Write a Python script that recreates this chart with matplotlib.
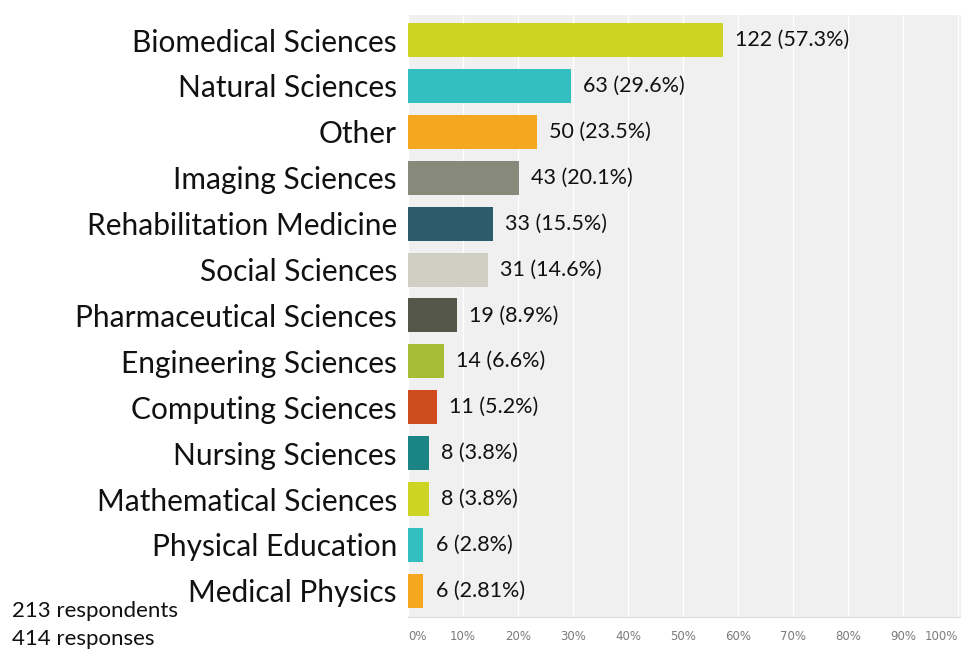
import numpy as np
import matplotlib.pyplot as plt

# survey data
categories = ['Biomedical Sciences', 'Natural Sciences', 'Other', 'Imaging Sciences',
              'Rehabilitation Medicine', 'Social Sciences', 'Pharmaceutical Sciences',
              'Engineering Sciences', 'Computing Sciences', 'Nursing Sciences',
              'Mathematical Sciences', 'Physical Education', 'Medical Physics']
counts = [122, 63, 50, 43, 33, 31, 19, 14, 11, 8, 8, 6, 6]
percents = [57.3, 29.6, 23.5, 20.1, 15.5, 14.6, 8.9, 6.6, 5.2, 3.8, 3.8, 2.8, 2.81]
colors = ['#cdd424', '#33bec0', '#f5a81f', '#878a7a', '#2c5b6c', '#cfcfc4', '#545647',
          '#a6bd35', '#cf4c1f', '#1b8585', '#cdd424', '#33bec0', '#f5a81f']
tick_vals = list(range(0, 101, 10))

plt.rcParams['font.family'] = ['Lato', 'DejaVu Sans']

fig = plt.figure(figsize=(9.61, 6.51), dpi=100)
ax = fig.add_axes([408 / 961, 1 - 617 / 651, 553 / 961, 602 / 651])
ax.set_facecolor('#f0f0f0')

y = np.arange(len(categories))
ax.barh(y, percents, height=0.74, color=colors, zorder=3)

for yi, c, p in zip(y, counts, percents):
    ax.text(p + 2.2, yi, f'{c} ({p}%)', va='center', ha='left',
            fontsize=15.5, color='#111111', zorder=4)

ax.set_xlim(0, 100.5)
ax.set_ylim(12.57, -0.545)
ax.set_xticks(tick_vals)
ax.set_xticklabels([f'{v}%' for v in tick_vals], fontsize=8.5, color='#7a7a7a',
                   fontfamily='DejaVu Sans')
labels = ax.get_xticklabels()
labels[0].set_ha('left')
labels[-1].set_ha('right')
ax.set_yticks(y)
ax.set_yticklabels(categories, fontsize=21.5, color='#111111')
ax.tick_params(axis='y', length=0, pad=8)
ax.tick_params(axis='x', length=0, pad=9)
ax.xaxis.grid(True, color='white', linewidth=1, zorder=1)
ax.set_axisbelow(True)
for s in ['top', 'right', 'left']:
    ax.spines[s].set_visible(False)
ax.spines['bottom'].set_color('#dcdcdc')

fig.text(12 / 961, 1 - 611 / 651, '213 respondents', fontsize=16, va='center', color='#111111')
fig.text(12 / 961, 1 - 639 / 651, '414 responses', fontsize=16, va='center', color='#111111')

fig.savefig('out.png', dpi=100)
